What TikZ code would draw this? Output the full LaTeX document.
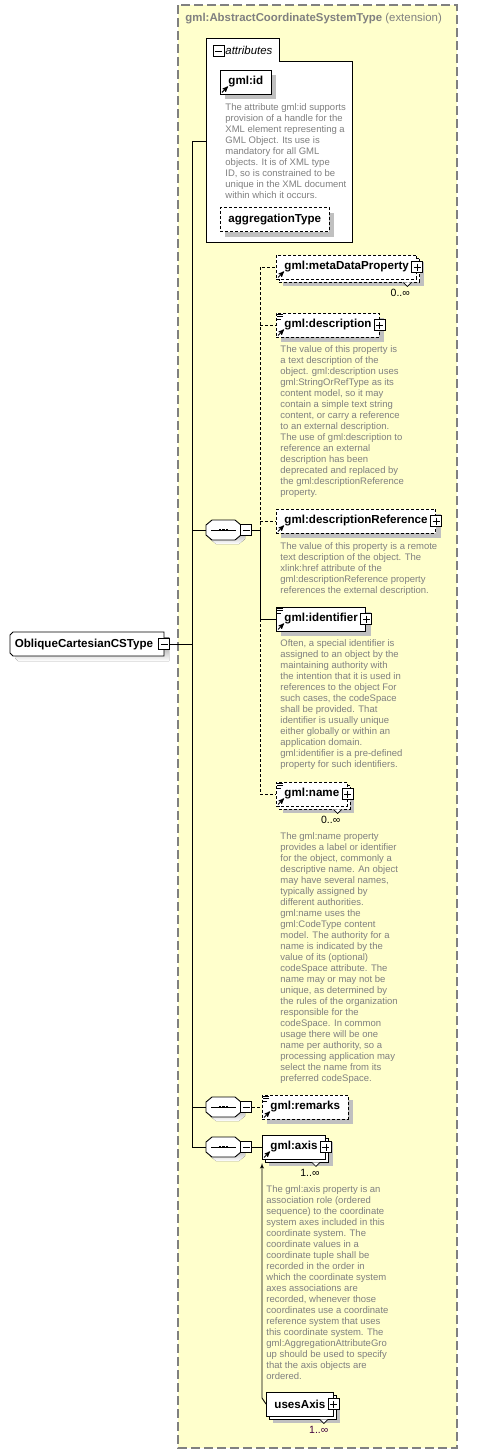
\documentclass[tikz,border=0pt]{standalone}
\usepackage{fontspec}
\setmainfont{Liberation Sans}
\usetikzlibrary{shapes,arrows,positioning,calc,shadows}

\definecolor{extyellow}{RGB}{255,255,204}
\definecolor{extborder}{RGB}{128,128,128}
\definecolor{doctext}{RGB}{128,128,128}
\definecolor{shade}{RGB}{192,192,192}
\definecolor{occpurple}{RGB}{64,0,64}

\newcommand{\kidgap}{\hspace{5pt}}
% little marks inside the element boxes
\newcommand{\refmark}[1]{\draw[-stealth', line width=1pt] ([xshift=2pt,yshift=2pt]#1.south west) -- ++(6pt,6pt);}
\newcommand{\docmark}[1]{\draw[line width=0.7pt] ([xshift=1pt,yshift=-1.5pt]#1.north west) -- ++(6pt,0pt) ([xshift=1pt,yshift=-4pt]#1.north west) -- ++(6pt,0pt) ([xshift=1pt,yshift=-6.5pt]#1.north west) -- ++(4pt,0pt);}
\newcommand{\notch}[1]{\draw[fill=white, line width=0.7pt] ([xshift=-14pt,yshift=-3pt]#1.south east) -- ++(4pt,-4pt) -- ++(4pt,4pt);}
% sequence compositor: octagon with three dots
\newcommand{\seqshape}[1]{%
  \fill[shade] ([shift={(4pt,-4pt)}]#1.center) ++(-17.5pt,5pt) -- ++(6pt,5pt) -- ++(23pt,0pt) -- ++(6pt,-5pt) -- ++(0pt,-10pt) -- ++(-6pt,-5pt) -- ++(-23pt,0pt) -- ++(-6pt,5pt) -- cycle;
  \draw[fill=white] (#1.center) ++(-17.5pt,5pt) -- ++(6pt,5pt) -- ++(23pt,0pt) -- ++(6pt,-5pt) -- ++(0pt,-10pt) -- ++(-6pt,-5pt) -- ++(-23pt,0pt) -- ++(-6pt,5pt) -- cycle;
  \draw[line width=0.8pt] ([xshift=-12.5pt]#1.center) -- ([xshift=12.5pt]#1.center);
  \foreach \dx in {-3.4,0,3.4} \fill ([xshift=\dx pt]#1.center) +(-1.3pt,-1.3pt) rectangle +(1.3pt,1.3pt);}

\begin{document}
\begin{tikzpicture}[x=1pt, y=-1pt, line width=0.9pt]
    \tikzstyle{elbase} = [draw, fill=white, font=\fontsize{11.6}{13}\selectfont\bfseries, minimum height=24pt, inner xsep=8pt, inner ysep=0pt, anchor=west]
    \tikzstyle{elem} = [elbase, drop shadow={shadow xshift=5pt, shadow yshift=-5pt, fill=shade, opacity=1}]
    \tikzstyle{elems} = [elbase, drop shadow={shadow xshift=7pt, shadow yshift=-7pt, fill=shade, opacity=1}, general shadow={shadow xshift=3pt, shadow yshift=-3pt, fill=white, draw=black}]
    \tikzstyle{opt} = [dash pattern=on 3pt off 2pt]
    \tikzstyle{doc} = [font=\fontsize{9.5}{11}\selectfont, text=doctext, align=left, inner sep=0pt]
    \tikzstyle{occ} = [font=\fontsize{10.5}{12}\selectfont, inner sep=0pt]
    \tikzstyle{seqbox} = [minimum width=35pt, minimum height=20pt, inner sep=0pt]
    \tikzstyle{pmbox} = [draw, fill=white, minimum size=11pt, inner sep=0pt]
    \tikzstyle{minusbox} = [pmbox, path picture={\draw ([xshift=2pt]path picture bounding box.west) -- ([xshift=-2pt]path picture bounding box.east);}]
    \tikzstyle{plusbox} = [pmbox, path picture={\draw ([xshift=2pt]path picture bounding box.west) -- ([xshift=-2pt]path picture bounding box.east) ([yshift=-2pt]path picture bounding box.north) -- ([yshift=2pt]path picture bounding box.south);}]

    \useasboundingbox (0,0) rectangle (492,1454);
    \fill[white] (0,0) rectangle (492,1454);

    % extension frame
    \draw[fill=extyellow, draw=extborder, line width=1.2pt, dash pattern=on 9pt off 4pt] (178,5) rectangle (457,1448);
    \node[anchor=west, inner sep=0pt, text=extborder, font=\fontsize{11.4}{13}\selectfont] (extTitle) at (185,19) {\bfseries gml:AbstractCoordinateSystemType \mdseries(extension)};

    % attributes group
    \draw[fill=white] (206,242) -- (206,38) -- (279,38) -- (279,61) -- (352,61) -- (352,242) -- cycle;
    \node[minusbox] (attrM) at (218.5,51) {};
    \node[anchor=west, font=\fontsize{11.4}{13}\selectfont\itshape, inner sep=0pt] (attrT) at (225,50) {attributes};
    \coordinate (attrs) at (206,141);

    \node[elem] (gmlid) at (220,82) {gml:id};
    \refmark{gmlid}
    \node[doc, below right=8.6pt and 5pt of gmlid.south west] (gmlidDoc) {The attribute gml:id supports\\provision of a handle for the\\XML element representing a\\GML Object. Its use is\\mandatory for all GML\\objects. It is of XML type\\ID, so is constrained to be\\unique in the XML document\\within which it occurs.};
    \node[elem, opt] (aggr) at (220,219.5) {aggregationType};

    % root type
    \fill[shade] (15,640) -- (18,637) -- (169,637) -- (169,661) -- (18,661) -- (15,658) -- cycle;
    \draw[fill=white] (10,635) -- (13,632) -- (164,632) -- (164,656) -- (13,656) -- (10,653) -- cycle;
    \node[font=\fontsize{11.6}{13}\selectfont\bfseries, inner sep=0pt] (ocs) at (84,644) {ObliqueCartesianCSType};
    \node[minusbox] (ocsM) at (164,644) {};

    % sequences
    \node[seqbox] (seqA) at (223.5,530) {};
    \seqshape{seqA}
    \node[minusbox] (seqAm) at (246,530) {};
    \node[seqbox] (seqB) at (223.5,1107) {};
    \seqshape{seqB}
    \node[minusbox] (seqBm) at (246,1107) {};
    \node[seqbox] (seqC) at (223.5,1147) {};
    \seqshape{seqC}
    \node[minusbox] (seqCm) at (246,1147) {};

    % elements of the first sequence
    \node[elems, opt] (meta) at (276,267) {gml:metaDataProperty\kidgap};
    \node[plusbox] (metaP) at (meta.east) {};
    \refmark{meta} \notch{meta}
    \node[occ, below left=9pt and 7pt of meta.south east] (metaOcc) {0..∞};

    \node[elem, opt] (descr) at (276,325) {gml:description\kidgap};
    \node[plusbox] (descrP) at (descr.east) {};
    \refmark{descr} \docmark{descr}
    \node[doc, below right=7.6pt and 4pt of descr.south west] (descrDoc) {The value of this property is\\a text description of the\\object. gml:description uses\\gml:StringOrRefType as its\\content model, so it may\\contain a simple text string\\content, or carry a reference\\to an external description.\\The use of gml:description to\\reference an external\\description has been\\deprecated and replaced by\\the gml:descriptionReference\\property.};

    \node[elem, opt] (descRef) at (276,521) {gml:descriptionReference\kidgap};
    \node[plusbox] (descRefP) at (descRef.east) {};
    \refmark{descRef}
    \node[doc, below right=8.6pt and 4pt of descRef.south west] (descRefDoc) {The value of this property is a remote\\text description of the object. The\\xlink:href attribute of the\\gml:descriptionReference property\\references the external description.};

    \node[elem] (ident) at (276,619) {gml:identifier\kidgap};
    \node[plusbox] (identP) at (ident.east) {};
    \refmark{ident} \docmark{ident}
    \node[doc, below right=8pt and 4pt of ident.south west] (identDoc) {Often, a special identifier is\\assigned to an object by the\\maintaining authority with\\the intention that it is used in\\references to the object For\\such cases, the codeSpace\\shall be provided. That\\identifier is usually unique\\either globally or within an\\application domain.\\gml:identifier is a pre-defined\\property for such identifiers.};

    \node[elems, opt] (name) at (276,794) {gml:name\kidgap};
    \node[plusbox] (nameP) at (name.east) {};
    \refmark{name} \docmark{name} \notch{name}
    \node[occ, below left=9pt and 7pt of name.south east] (nameOcc) {0..∞};
    \node[doc, below right=25.6pt and 4pt of name.south west] (nameDoc) {The gml:name property\\provides a label or identifier\\for the object, commonly a\\descriptive name. An object\\may have several names,\\typically assigned by\\different authorities.\\gml:name uses the\\gml:CodeType content\\model.  The authority for a\\name is indicated by the\\value of its (optional)\\codeSpace attribute.  The\\name may or may not be\\unique, as determined by\\the rules of the organization\\responsible for the\\codeSpace.  In common\\usage there will be one\\name per authority, so a\\processing application may\\select the name from its\\preferred codeSpace.};

    % remarks and axis
    \node[elem, opt] (remarks) at (262,1107) {gml:remarks};
    \refmark{remarks} \docmark{remarks}

    \node[elems] (axis) at (262,1147) {gml:axis\kidgap};
    \node[plusbox] (axisP) at (axis.east) {};
    \refmark{axis} \notch{axis}
    \node[occ, below left=9pt and 6pt of axis.south east] (axisOcc) {1..∞};
    \node[doc, below right=25.6pt and 4pt of axis.south west] (axisDoc) {The gml:axis property is an\\association role (ordered\\sequence) to the coordinate\\system axes included in this\\coordinate system. The\\coordinate values in a\\coordinate tuple shall be\\recorded in the order in\\which the coordinate system\\axes associations are\\recorded, whenever those\\coordinates use a coordinate\\reference system that uses\\this coordinate system. The\\gml:AggregationAttributeGro\\up should be used to specify\\that the axis objects are\\ordered.};

    \node[elems] (uses) at (266,1404) {usesAxis\kidgap};
    \node[plusbox] (usesP) at (uses.east) {};
    \notch{uses}
    \node[occ, text=occpurple, below left=9pt and 5pt of uses.south east] (usesOcc) {1..∞};

    % connectors
    \coordinate (trunkTop) at (192,141);
    \coordinate (brA) at (260,530);
    \coordinate (axisFoot) at (262,1163);
    \draw (attrs) -- (trunkTop) -- (trunkTop |- seqC.west) -- (seqC.west);
    \draw (seqA.west -| trunkTop) -- (seqA.west);
    \draw (seqB.west -| trunkTop) -- (seqB.west);
    \draw (ocsM.east) -- (ocsM.east -| trunkTop);
    \draw (seqAm.east) -- (brA) -- (brA |- ident.west) -- (ident.west);
    \draw[opt] (brA) -- (brA |- meta.west) -- (meta.west);
    \draw[opt] (brA |- descr.west) -- (descr.west);
    \draw[opt] (brA |- descRef.west) -- (descRef.west);
    \draw[opt] (brA |- ident.west) -- (brA |- name.west) -- (name.west);
    \draw[opt] (seqBm.east) -- (remarks.west);
    \draw (seqCm.east) -- (axis.west);
    \draw[-latex'] (uses.west) -- ++(-4,-6) -- (axisFoot);
\end{tikzpicture}
\end{document}
